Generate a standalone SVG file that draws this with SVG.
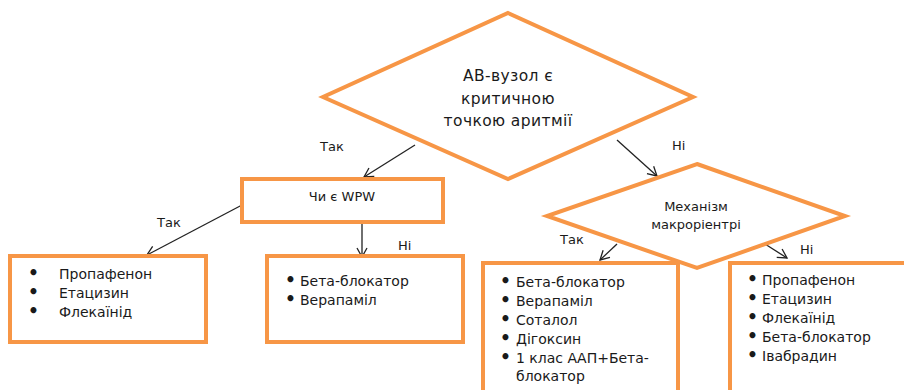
<svg xmlns="http://www.w3.org/2000/svg" width="904" height="390" viewBox="0 0 904 390">
<defs>
<marker id="arr" markerWidth="12" markerHeight="12" refX="10" refY="6" orient="auto" markerUnits="userSpaceOnUse">
<path d="M1,1 L10,6 L1,11" fill="none" stroke="#222" stroke-width="1.3"/>
</marker>
</defs>
<style>
.shape{fill:#fff;stroke:#F79646;stroke-width:4;stroke-linejoin:miter}
.t{font-family:"DejaVu Sans","Liberation Sans",sans-serif;font-size:13px;fill:#1a1a1a}
.l{font-size:14px}
.big{font-size:15.5px;letter-spacing:0.4px}
.b{font-size:17px;font-weight:bold}
.c{text-anchor:middle}
.conn{stroke:#222;stroke-width:1.3;fill:none;marker-end:url(#arr)}
</style>
<rect width="904" height="390" fill="#fff"/>
<g id="connectors">
<line class="conn" x1="415" y1="145" x2="364" y2="177"/>
<line class="conn" x1="617" y1="140" x2="657" y2="176"/>
<line class="conn" x1="242" y1="205" x2="147" y2="255"/>
<line class="conn" x1="362" y1="222" x2="362" y2="257"/>
<line class="conn" x1="617" y1="244" x2="600" y2="260"/>
<line class="conn" x1="765" y1="244" x2="787" y2="258"/>
<text class="t" x="320" y="151">Так</text>
<text class="t" x="672" y="150">Ні</text>
<text class="t" x="157" y="227">Так</text>
<text class="t" x="398" y="250">Ні</text>
<text class="t" x="560" y="244">Так</text>
<text class="t" x="800" y="254">Ні</text>
</g>
<g id="n1">
<polygon class="shape" points="508,13 693,97 508,179 323,97"/>
<text class="t big c" x="508" y="81">АВ-вузол є</text>
<text class="t big c" x="508" y="104">критичною</text>
<text class="t big c" x="508" y="126">точкою аритмії</text>
</g>
<g id="n2">
<rect class="shape" x="242" y="179" width="201" height="43"/>
<text class="t c" x="342" y="201">Чи є WPW</text>
</g>
<g id="n3">
<rect class="shape" x="10" y="256" width="196" height="86"/>
<text class="t b" x="28" y="279">•</text><text class="t l" x="59" y="279">Пропафенон</text>
<text class="t b" x="28" y="298">•</text><text class="t l" x="59" y="298">Етацизин</text>
<text class="t b" x="28" y="317">•</text><text class="t l" x="59" y="317">Флекаїнід</text>
</g>
<g id="n4">
<rect class="shape" x="267" y="256" width="196" height="86"/>
<text class="t b" x="285" y="286">•</text><text class="t l" x="300" y="286">Бета-блокатор</text>
<text class="t b" x="285" y="305">•</text><text class="t l" x="300" y="305">Верапаміл</text>
</g>
<g id="n5">
<polygon class="shape" points="697,164 845,216 697,268 547,216"/>
<text class="t c" x="696" y="211">Механізм</text>
<text class="t c" x="696" y="229">макроріентрі</text>
</g>
<g id="n6">
<rect class="shape" x="483" y="263" width="195" height="140"/>
<text class="t b" x="500" y="287">•</text><text class="t l" x="516" y="287">Бета-блокатор</text>
<text class="t b" x="500" y="306">•</text><text class="t l" x="516" y="306">Верапаміл</text>
<text class="t b" x="500" y="325">•</text><text class="t l" x="516" y="325">Соталол</text>
<text class="t b" x="500" y="344">•</text><text class="t l" x="516" y="344">Дігоксин</text>
<text class="t b" x="500" y="363">•</text><text class="t l" x="516" y="363">1 клас ААП+Бета-</text>
<text class="t l" x="516" y="381">блокатор</text>
</g>
<g id="n7">
<rect class="shape" x="730" y="263" width="190" height="140"/>
<text class="t b" x="747" y="285">•</text><text class="t l" x="762" y="285">Пропафенон</text>
<text class="t b" x="747" y="304">•</text><text class="t l" x="762" y="304">Етацизин</text>
<text class="t b" x="747" y="323">•</text><text class="t l" x="762" y="323">Флекаїнід</text>
<text class="t b" x="747" y="342">•</text><text class="t l" x="762" y="342">Бета-блокатор</text>
<text class="t b" x="747" y="361">•</text><text class="t l" x="762" y="361">Івабрадин</text>
</g>
</svg>
